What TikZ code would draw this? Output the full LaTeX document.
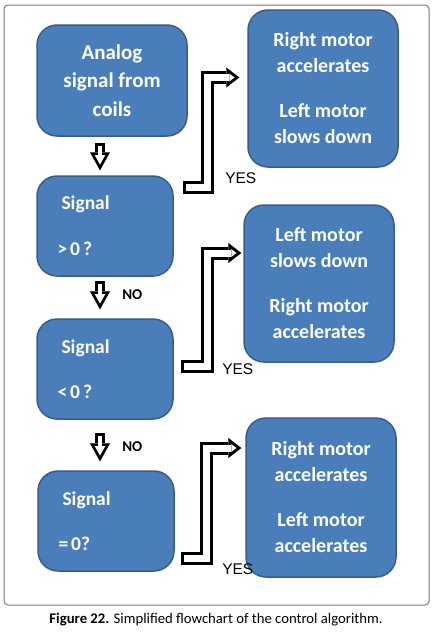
\documentclass[tikz,border=0pt]{standalone}
\usepackage{fontspec}
\setmainfont{Carlito}
\newfontfamily\yesfont{Liberation Sans}
\usetikzlibrary{arrows.meta, calc, positioning}
\definecolor{boxblue}{RGB}{74,126,187}
\definecolor{boxedge}{RGB}{56,93,138}
\definecolor{framegray}{RGB}{120,120,120}

\begin{document}
\begin{tikzpicture}[
    x=1pt, y=-1pt,
    box/.style={rectangle, rounded corners=20pt, draw=boxedge, line width=1.5pt, fill=boxblue, text=white, inner sep=0pt, align=center},
    test/.style={box, minimum width=136pt, minimum height=100pt, text width=95pt, align=left, font=\fontsize{19.5}{26}\selectfont\bfseries},
    result/.style={box, minimum width=150pt, minimum height=157pt, font=\fontsize{20}{26}\selectfont\bfseries},
    downarrow/.style={draw=black, line width=10.5pt, -{Triangle[length=18pt, width=20pt, line width=0.01pt]},
        postaction={draw=white, line width=4.9pt, shorten <=2.8pt, shorten >=5.8pt, -{Triangle[length=9.4pt, width=10.5pt, line width=0.01pt]}}},
    elbowarrow/.style={draw=black, line width=13pt, -{Triangle[length=13pt, width=20pt, line width=0.01pt]},
        postaction={draw=white, line width=7pt, shorten <=3pt, shorten >=4.9pt, -{Triangle[length=5.1pt, width=7.8pt, line width=0.01pt]}}},
    nolabel/.style={inner sep=0pt, anchor=west, font=\fontsize{15}{15}\selectfont\bfseries},
    yeslabel/.style={inner sep=0pt, anchor=west, font=\fontsize{15.5}{15.5}\selectfont\yesfont}
]
    \useasboundingbox (0,0) rectangle (435,632);
    \draw[framegray, line width=1pt, rounded corners=4pt] (4,5) rectangle (429,605);

    % left column
    \node[box, minimum width=150pt, minimum height=111pt, font=\fontsize{21}{28.5}\selectfont\bfseries] (analog) at (112,80.5) {Analog\\signal from\\coils};
    \node[test] (sig1) at (105,226) {\hspace*{4pt}Signal\\[20pt]>\hspace{3pt}0\hspace{3pt}?};
    \node[test] (sig2) at (105,369) {\hspace*{4pt}Signal\\[19pt]<\hspace{3pt}0\hspace{3pt}?};
    \node[test] (sig3) at (106,521) {\hspace*{4pt}Signal\\[19pt]=\hspace{3pt}0?};

    % right column
    \node[result] (out1) at (323,88.5) {Right motor\\accelerates\\[19pt]Left motor\\slows down};
    \node[result] (out2) at (319,283.5) {Left motor\\slows down\\[19pt]Right motor\\accelerates};
    \node[result, minimum height=159pt] (out3) at (321,497.5) {Right motor\\accelerates\\[19pt]Left motor\\accelerates};

    % NO path
    \draw[downarrow] ($(analog.south)+(-12,6)$) -- ($(sig1.north)+(-5,-5)$);
    \draw[downarrow] ($(sig1.south)+(-5,4)$) -- node[nolabel, xshift=17pt] {NO} ($(sig2.north)+(-5,-9)$);
    \draw[downarrow] ($(sig2.south)+(-5,13)$) -- node[nolabel, xshift=17pt] {NO} ($(sig3.north)+(-6,-9)$);

    % YES path
    \draw[elbowarrow] ($(sig1.north east)+(9,12)$) -- ++(24.5,0) node[yeslabel, xshift=11.5pt, yshift=9.5pt] {YES} |- ($(out1.west)+(-8,-11)$);
    \draw[elbowarrow] ($(sig2.east)+(7,-3)$) -- ++(27,0) node[yeslabel, xshift=8pt, yshift=-3pt] {YES} |- ($(out2.west)+(-2,-30.5)$);
    \draw[elbowarrow] ($(sig3.south east)+(6,-13)$) -- ++(26,0) node[yeslabel, xshift=9pt, yshift=-10pt] {YES} |- ($(out3.west)+(-4,-49.5)$);

    \node[font=\fontsize{14.7}{14.7}\selectfont] (caption) at (216,620) {\textbf{Figure 22.} Simplified flowchart of the control algorithm.};
\end{tikzpicture}
\end{document}
